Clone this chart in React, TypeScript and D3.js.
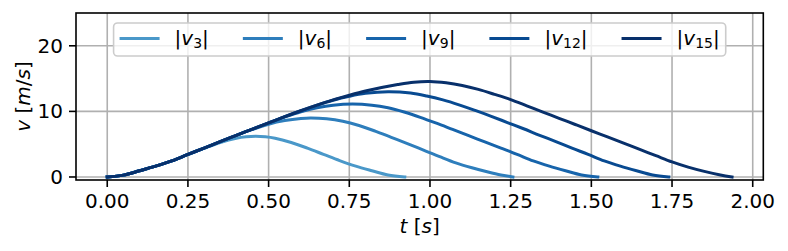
import React, { useEffect, useRef } from "react";
import * as d3 from "d3";

const W = 788;
const H = 251;

const xTicks = [0, 0.25, 0.5, 0.75, 1.0, 1.25, 1.5, 1.75, 2.0];
const yTicks = [0, 10, 20];
const seriesSubs = ["3", "6", "9", "12", "15"];
const seriesColors = ["#4a98c9", "#2e7ebc", "#1764ab", "#084a91", "#08306b"];

const t3 = [0, 0.05, 0.1, 0.15, 0.2, 0.25, 0.3, 0.35, 0.4, 0.43, 0.46, 0.49, 0.52, 0.57, 0.62, 0.67, 0.72, 0.77, 0.82, 0.87, 0.922];
const v3 = [0, 0.28, 0.95, 1.65, 2.45, 3.4, 4.35, 5.25, 5.9, 6.12, 6.2, 6.12, 5.9, 5.25, 4.4, 3.45, 2.5, 1.65, 0.95, 0.3, 0];

const t6 = [0, 0.05, 0.1, 0.15, 0.2, 0.25, 0.3, 0.35, 0.4, 0.45, 0.5, 0.55, 0.6, 0.63, 0.68, 0.73, 0.78, 0.83, 0.88, 0.93, 0.98, 1.03, 1.08, 1.13, 1.18, 1.22, 1.257];
const v6 = [0, 0.28, 0.95, 1.65, 2.45, 3.45, 4.4, 5.4, 6.35, 7.25, 8.05, 8.6, 8.92, 9.0, 8.88, 8.5, 7.85, 7.0, 6.05, 5.1, 4.1, 3.1, 2.15, 1.4, 0.75, 0.3, 0];

const t9 = [0, 0.05, 0.1, 0.15, 0.2, 0.25, 0.3, 0.35, 0.4, 0.45, 0.5, 0.55, 0.6, 0.65, 0.7, 0.76, 0.82, 0.87, 0.92, 0.97, 1.02, 1.07, 1.12, 1.17, 1.22, 1.27, 1.32, 1.37, 1.42, 1.47, 1.52];
const v9 = [0, 0.28, 0.95, 1.65, 2.45, 3.45, 4.4, 5.4, 6.35, 7.3, 8.25, 9.15, 9.95, 10.55, 10.95, 11.12, 10.95, 10.55, 9.9, 9.1, 8.2, 7.25, 6.3, 5.35, 4.4, 3.45, 2.45, 1.65, 0.95, 0.3, 0];

const t12 = [0, 0.05, 0.1, 0.15, 0.2, 0.25, 0.3, 0.35, 0.4, 0.45, 0.5, 0.55, 0.6, 0.65, 0.7, 0.75, 0.8, 0.87, 0.94, 0.99, 1.04, 1.09, 1.14, 1.19, 1.24, 1.29, 1.34, 1.39, 1.44, 1.49, 1.54, 1.59, 1.64, 1.69, 1.74];
const v12 = [0, 0.28, 0.95, 1.65, 2.45, 3.45, 4.4, 5.4, 6.35, 7.3, 8.25, 9.2, 10.1, 10.95, 11.7, 12.3, 12.75, 13.0, 12.8, 12.35, 11.75, 11.0, 10.15, 9.25, 8.3, 7.35, 6.35, 5.4, 4.4, 3.45, 2.45, 1.65, 0.95, 0.3, 0];

const t15 = [0, 0.05, 0.1, 0.15, 0.2, 0.25, 0.3, 0.35, 0.4, 0.45, 0.5, 0.55, 0.6, 0.65, 0.7, 0.75, 0.8, 0.85, 0.9, 0.95, 1.0, 1.05, 1.1, 1.15, 1.2, 1.25, 1.3, 1.35, 1.4, 1.45, 1.5, 1.55, 1.6, 1.65, 1.7, 1.75, 1.8, 1.85, 1.9, 1.936];
const v15 = [0, 0.28, 0.95, 1.65, 2.45, 3.45, 4.4, 5.4, 6.35, 7.3, 8.25, 9.2, 10.1, 10.95, 11.75, 12.45, 13.1, 13.65, 14.1, 14.45, 14.55, 14.35, 13.95, 13.35, 12.6, 11.8, 10.85, 9.9, 8.95, 8.0, 7.05, 6.1, 5.15, 4.2, 3.25, 2.3, 1.5, 0.85, 0.3, 0];

const seriesT = [t3, t6, t9, t12, t15];
const seriesV = [v3, v6, v9, v12, v15];

const FS = 20;
const FONT = "DejaVu Sans";

export default function App() {
  const ref = useRef<SVGSVGElement>(null);

  useEffect(() => {
    const svg = d3.select(ref.current);
    svg.selectAll("*").remove();

    const left = 76, right = 763.3, top = 13, bottom = 180;
    const x = d3.scaleLinear().domain([-0.0968, 2.0328]).range([left, right]);
    const y = d3.scaleLinear().domain([-0.46, 25]).range([bottom, top]);

    svg.append("rect").attr("width", W).attr("height", H).attr("fill", "#ffffff");

    // grid
    const grid = svg.append("g").attr("stroke", "#b0b0b0").attr("stroke-width", 1.6);
    xTicks.forEach((t) => {
      grid.append("line").attr("x1", x(t)).attr("x2", x(t)).attr("y1", top).attr("y2", bottom);
    });
    yTicks.forEach((t) => {
      grid.append("line").attr("x1", left).attr("x2", right).attr("y1", y(t)).attr("y2", y(t));
    });

    // clip
    svg.append("defs").append("clipPath").attr("id", "plotclip")
      .append("rect").attr("x", left).attr("y", top).attr("width", right - left).attr("height", bottom - top);

    const line = d3.line<[number, number]>()
      .x((d) => x(d[0]))
      .y((d) => y(d[1]))
      .curve(d3.curveCatmullRom.alpha(0.5));

    const lines = svg.append("g").attr("clip-path", "url(#plotclip)");
    seriesT.forEach((ts, i) => {
      const pts: [number, number][] = ts.map((t, j) => [t, seriesV[i][j]]);
      lines.append("path")
        .attr("d", line(pts))
        .attr("fill", "none")
        .attr("stroke", seriesColors[i])
        .attr("stroke-width", 3)
        .attr("stroke-linecap", "square")
        .attr("stroke-linejoin", "round");
    });

    // spines
    svg.append("rect")
      .attr("x", left).attr("y", top).attr("width", right - left).attr("height", bottom - top)
      .attr("fill", "none").attr("stroke", "#000").attr("stroke-width", 1.6);

    // ticks
    const tk = svg.append("g").attr("stroke", "#000").attr("stroke-width", 1.6);
    xTicks.forEach((t) => {
      tk.append("line").attr("x1", x(t)).attr("x2", x(t)).attr("y1", bottom).attr("y2", bottom + 7);
    });
    yTicks.forEach((t) => {
      tk.append("line").attr("x1", left).attr("x2", left - 7).attr("y1", y(t)).attr("y2", y(t));
    });

    const tl = svg.append("g").attr("font-family", FONT).attr("font-size", FS).attr("fill", "#000");
    xTicks.forEach((t) => {
      tl.append("text").attr("x", x(t)).attr("y", bottom + 28).attr("text-anchor", "middle").text(d3.format(".2f")(t));
    });
    yTicks.forEach((t) => {
      tl.append("text").attr("x", left - 13).attr("y", y(t) + 7).attr("text-anchor", "end").text(String(t));
    });

    // x label
    const xl = svg.append("text").attr("font-family", FONT).attr("font-size", FS)
      .attr("x", (left + right) / 2).attr("y", 233).attr("text-anchor", "middle")
      .attr("xml:space", "preserve");
    xl.append("tspan").attr("font-style", "italic").text("t");
    xl.append("tspan").text(" [");
    xl.append("tspan").attr("font-style", "italic").text("s");
    xl.append("tspan").text("]");

    // y label
    const yl = svg.append("text").attr("font-family", FONT).attr("font-size", FS)
      .attr("text-anchor", "middle")
      .attr("transform", `translate(29.5,${(top + bottom) / 2}) rotate(-90)`);
    yl.append("tspan").attr("font-style", "italic").text("v");
    yl.append("tspan").text(" [");
    yl.append("tspan").attr("font-style", "italic").text("m");
    yl.append("tspan").text("/");
    yl.append("tspan").attr("font-style", "italic").text("s");
    yl.append("tspan").text("]");

    // legend
    const lg = svg.append("g");
    const frame = lg.append("rect");
    const items: { g: any; w: number }[] = [];
    seriesSubs.forEach((s, i) => {
      const g = lg.append("g");
      g.append("line").attr("x1", 0).attr("x2", 40).attr("y1", 38.5).attr("y2", 38.5)
        .attr("stroke", seriesColors[i]).attr("stroke-width", 3);
      const txt = g.append("text").attr("font-family", FONT).attr("font-size", FS)
        .attr("x", 55).attr("y", 44.6);
      txt.append("tspan").text("|");
      txt.append("tspan").attr("font-style", "italic").text("v");
      txt.append("tspan").attr("font-size", FS * 0.7).attr("dy", 3).text(s);
      txt.append("tspan").attr("dy", -3).text("|");
      const w = (txt.node() as SVGTextElement).getComputedTextLength();
      items.push({ g, w });
    });
    const positions: number[] = [];
    let px = 0;
    items.forEach((it) => {
      positions.push(px);
      px += 55 + it.w + 34;
    });
    const last = items.length - 1;
    const innerW = positions[last] + 55 + items[last].w;
    const boxW = innerW + 6 + 6;
    const boxLeft = (left + right) / 2 - boxW / 2;
    items.forEach((it, i) => {
      it.g.attr("transform", `translate(${boxLeft + 6 + positions[i]},0)`);
    });
    frame.attr("x", boxLeft).attr("y", 23).attr("width", boxW).attr("height", 33)
      .attr("rx", 4).attr("fill", "#ffffff").attr("fill-opacity", 0.8)
      .attr("stroke", "#cccccc").attr("stroke-width", 1.6);
  }, []);

  return (
    <svg
      ref={ref}
      width={W}
      height={H}
      style={{ position: "absolute", left: 0, top: 0, display: "block" }}
    />
  );
}
